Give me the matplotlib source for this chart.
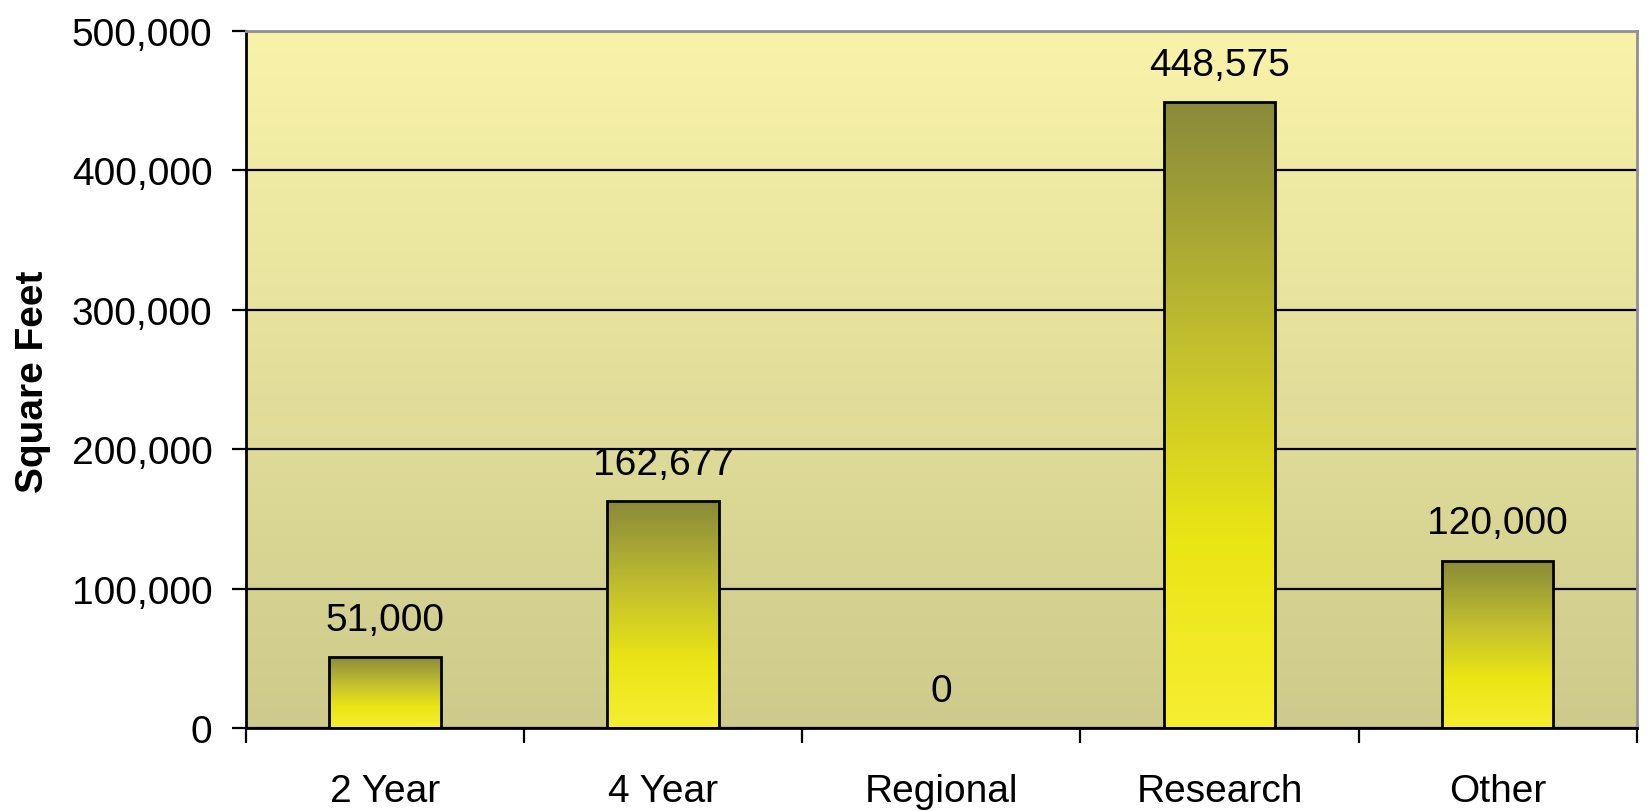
import matplotlib.pyplot as plt
import numpy as np
from matplotlib.colors import LinearSegmentedColormap
from matplotlib.ticker import FuncFormatter

categories = ["2 Year", "4 Year", "Regional", "Research", "Other"]
square_feet = [51000, 162677, 0, 448575, 120000]
yticks = [0, 100000, 200000, 300000, 400000, 500000]

plt.rcParams['font.family'] = ['Liberation Sans', 'DejaVu Sans']

bar_cmap = LinearSegmentedColormap.from_list(
    "bar", [(0.0, "#F6EE32"), (0.3, "#EAE514"), (0.6, "#C4C12E"), (1.0, "#898A3A")])
bg_cmap = LinearSegmentedColormap.from_list("bg", ["#CDCA8B", "#F9F3AA"])

fig, ax = plt.subplots(figsize=(16.5, 8.12), dpi=100)
fig.subplots_adjust(left=0.149, right=0.992, top=0.961, bottom=0.102)

# 背景渐变
grad = np.linspace(0, 1, 256).reshape(-1, 1)
ax.imshow(grad, cmap=bg_cmap, origin='lower', aspect='auto',
          extent=[0, 1, 0, 1], transform=ax.transAxes, zorder=0)

x = np.arange(len(categories))
bars = ax.bar(x, square_feet, width=0.4, facecolor='none', edgecolor='black',
              linewidth=2, zorder=3)
for b in bars:
    if b.get_height() <= 0:
        continue
    im = ax.imshow(grad, cmap=bar_cmap, origin='lower', aspect='auto',
                   extent=[b.get_x(), b.get_x() + b.get_width(), 0, b.get_height()],
                   zorder=2)
    im.set_clip_path(b)

ax.bar_label(bars, labels=[f"{v:,}" for v in square_feet], padding=14,
             fontsize=28, zorder=1.5)

ax.set_xlim(-0.5, len(categories) - 0.5)
ax.set_ylim(0, 500000)
ax.set_yticks(yticks)
ax.yaxis.set_major_formatter(FuncFormatter(lambda v, p: f"{int(v):,}"))
ax.yaxis.grid(True, color='black', linewidth=1.6, zorder=1.8)
ax.set_axisbelow(True)

ax.set_xticks(np.arange(-0.5, len(categories), 1.0))
ax.set_xticklabels([])
ax.set_xticks(x, minor=True)
ax.set_xticklabels(categories, minor=True)
ax.tick_params(axis='x', which='minor', length=0, pad=32, labelsize=28)
ax.tick_params(axis='x', which='major', length=11, width=1.6, direction='out')
ax.tick_params(axis='y', length=10, width=1.6, pad=14, labelsize=28)

for s in ['left', 'bottom']:
    ax.spines[s].set_color('black')
    ax.spines[s].set_linewidth(2)
for s in ['top', 'right']:
    ax.spines[s].set_color('#909090')
    ax.spines[s].set_linewidth(2)

fig.text(33 / 1650, 0.53, "Square Feet", fontsize=28, fontweight='bold',
         rotation=90, ha='center', va='center')

fig.savefig("out.png")
